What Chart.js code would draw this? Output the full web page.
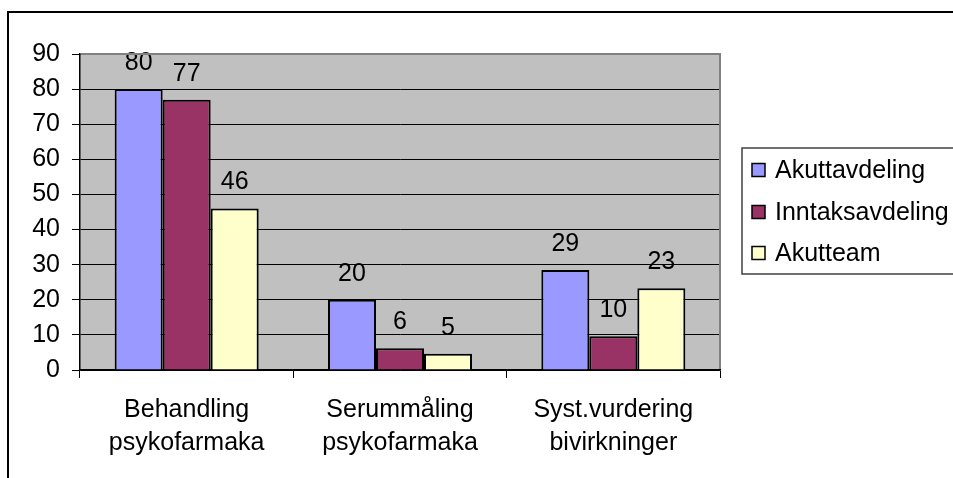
<!DOCTYPE html>
<html>
<head>
<meta charset="utf-8">
<script src="https://cdn.jsdelivr.net/npm/chart.js@4/dist/chart.umd.min.js"></script>
<style>
    html, body { margin: 0; padding: 0; background: #fff; overflow: hidden; }
</style>
</head>
<body>
<canvas id="grafico" width="953" height="478"></canvas>
<script>
// Kategorier og verdier
const kategorier = [
    ["Behandling", "psykofarmaka"],
    ["Serummåling", "psykofarmaka"],
    ["Syst.vurdering", "bivirkninger"]
];
const akuttavdeling = [80, 20, 28.5];
const inntaksavdeling = [77, 6.2, 9.6];
const akutteam = [46, 4.6, 23.3];

const serieNavn = ["Akuttavdeling", "Inntaksavdeling", "Akutteam"];
const farger = ["#9999FF", "#993366", "#FFFFCC"];

const yMin = 0, yMax = 90, ySteg = 10;

const font = 'Arial, "Liberation Sans", sans-serif';
const fontStr = 25;
Chart.defaults.font.family = font;
Chart.defaults.color = "#000";

// Grå bakgrunn i plottet
const plottBakgrunn = {
    id: "plottBakgrunn",
    beforeDraw(chart) {
        const { ctx, chartArea: a } = chart;
        ctx.save();
        ctx.fillStyle = "#C0C0C0";
        ctx.fillRect(a.left, a.top, a.right - a.left, a.bottom - a.top);
        ctx.restore();
    },
    afterDraw(chart) {
        const { ctx, chartArea: a } = chart;
        ctx.save();
        // kant oppe og til høyre
        ctx.strokeStyle = "#808080";
        ctx.lineWidth = 2;
        ctx.beginPath();
        ctx.moveTo(a.left + 1, a.top);
        ctx.lineTo(a.right, a.top);
        ctx.lineTo(a.right, a.bottom - 1);
        ctx.stroke();
        // ramme rundt hele diagrammet
        ctx.strokeStyle = "#000";
        ctx.lineWidth = 2;
        ctx.beginPath();
        ctx.moveTo(8, chart.height + 5);
        ctx.lineTo(8, 12);
        ctx.lineTo(chart.width + 5, 12);
        ctx.stroke();
        ctx.restore();
    }
};

// Verdier over søylene
const verdiEtiketter = {
    id: "verdiEtiketter",
    afterDatasetsDraw(chart) {
        const ctx = chart.ctx;
        ctx.save();
        ctx.font = fontStr + "px " + font;
        ctx.fillStyle = "#000";
        ctx.textAlign = "center";
        ctx.textBaseline = "alphabetic";
        chart.data.datasets.forEach((ds, i) => {
            chart.getDatasetMeta(i).data.forEach((bar, j) => {
                ctx.fillText(Math.round(ds.data[j]), bar.x, bar.y - 19);
            });
        });
        ctx.restore();
    }
};

// Forklaring (legend) med ramme
const forklaring = {
    id: "forklaring",
    afterDraw(chart) {
        const ctx = chart.ctx;
        const boksX = 742, boksY = 148, boksH = 126;
        const rader = [170, 212, 253];
        ctx.save();
        ctx.strokeStyle = "#404040";
        ctx.lineWidth = 1.5;
        ctx.strokeRect(boksX, boksY, chart.width, boksH);
        ctx.font = fontStr + "px " + font;
        ctx.textBaseline = "middle";
        ctx.textAlign = "left";
        chart.data.datasets.forEach((ds, i) => {
            const y = rader[i];
            ctx.fillStyle = ds.backgroundColor;
            ctx.fillRect(752, y - 6.5, 13, 13);
            ctx.strokeStyle = "#000";
            ctx.lineWidth = 1.5;
            ctx.strokeRect(752, y - 6.5, 13, 13);
            ctx.fillStyle = "#000";
            ctx.fillText(ds.label, 775, y + 1);
        });
        ctx.restore();
    }
};

const serier = [akuttavdeling, inntaksavdeling, akutteam];

new Chart(document.getElementById("grafico"), {
    type: "bar",
    data: {
        labels: kategorier,
        datasets: serier.map((verdier, i) => ({
            label: serieNavn[i],
            data: verdier,
            backgroundColor: farger[i],
            borderColor: "#000",
            borderWidth: 2,
            categoryPercentage: 0.675,
            barPercentage: 1
        }))
    },
    options: {
        responsive: false,
        animation: false,
        layout: { padding: { top: 54, right: 233, left: 0, bottom: 0 } },
        plugins: {
            legend: { display: false },
            tooltip: { enabled: false }
        },
        scales: {
            x: {
                afterFit(scale) { scale.height = 108; },
                grid: {
                    offset: true,
                    drawOnChartArea: false,
                    drawTicks: true,
                    tickLength: 8,
                    color: "#000"
                },
                border: { color: "#000", width: 1.5 },
                ticks: {
                    padding: 16,
                    maxRotation: 0,
                    font: { size: fontStr, lineHeight: 1.32 },
                    color: "#000"
                }
            },
            y: {
                min: yMin,
                max: yMax,
                afterFit(scale) { scale.width = 80; },
                grid: {
                    color: "#000",
                    tickLength: 8
                },
                border: { color: "#000", width: 1.5 },
                ticks: {
                    stepSize: ySteg,
                    padding: 12,
                    font: { size: fontStr },
                    color: "#000"
                }
            }
        }
    },
    plugins: [plottBakgrunn, verdiEtiketter, forklaring]
});
</script>
</body>
</html>
